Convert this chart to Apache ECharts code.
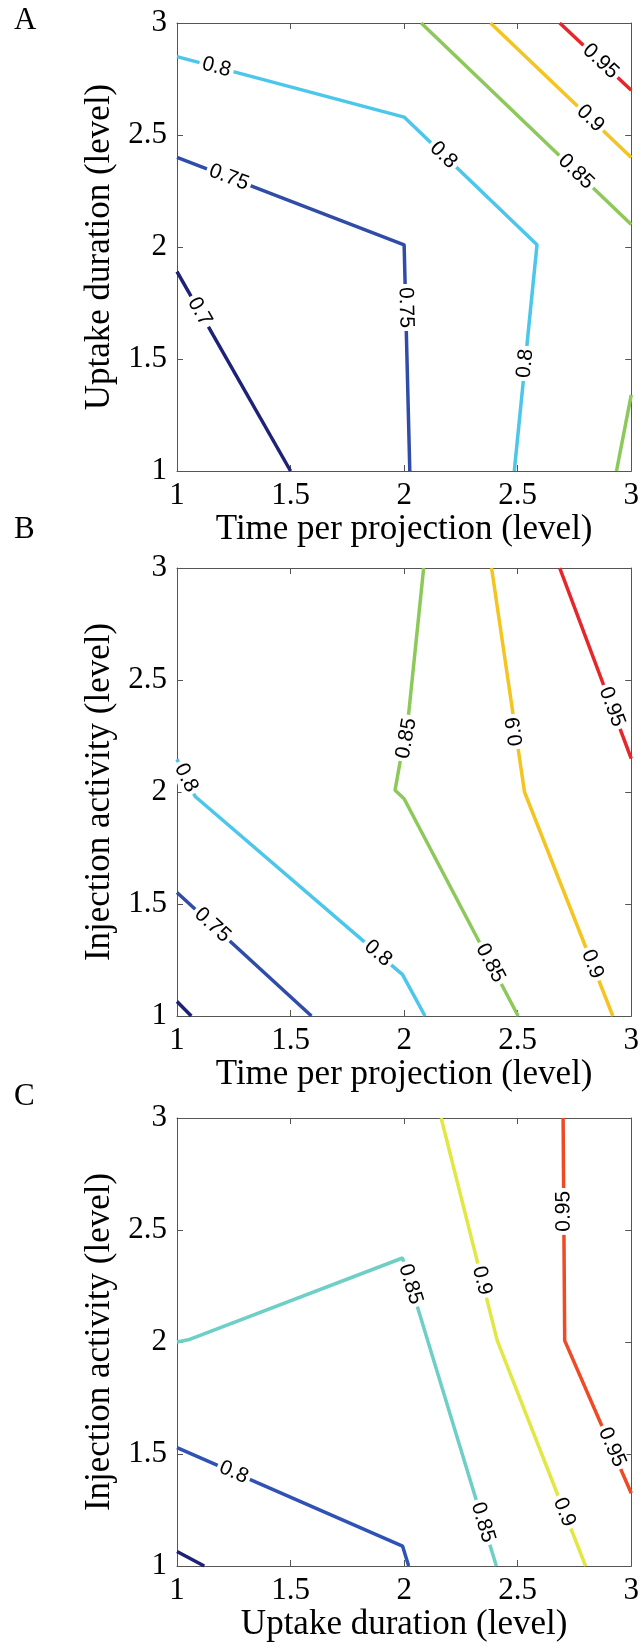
<!DOCTYPE html>
<html><head><meta charset="utf-8">
<script src="https://cdn.jsdelivr.net/npm/echarts@6/dist/echarts.min.js"></script>
<style>html,body{margin:0;padding:0;background:#fff}#c{width:642px;height:1650px}</style>
</head><body><div id="c"></div>
<script>
// ---------- axis / text data ----------
const axisMin = 1, axisMax = 3, axisStep = 0.5;
const panelLetters = ['A', 'B', 'C'];
const xAxisTitles = ['Time per projection (level)', 'Time per projection (level)', 'Uptake duration (level)'];
const yAxisTitles = ['Uptake duration (level)', 'Injection activity (level)', 'Injection activity (level)'];

// ---------- Panel A contour lines (x = time per projection, y = uptake duration) ----------
const a070 = [[1, 1.89], [1.5, 1]];
const a075 = [[1, 2.40], [2.0, 2.01], [2.025, 1]];
const a080 = [[1, 2.85], [2.0, 2.58], [2.585, 2.01], [2.485, 1]];
const a085top = [[2.075, 3], [3, 2.10]];
const a085bot = [[2.935, 1], [3, 1.34]];
const a090 = [[2.38, 3], [3, 2.40]];
const a095 = [[2.685, 3], [3, 2.70]];
// labels: [x, y, text, flip]
const labelsA = [
  [1.10, 1.712, '0.7', 0],
  [1.228, 2.311, '0.75', 0],
  [2.007, 1.73, '0.75', 0],
  [1.174, 2.803, '0.8', 0],
  [2.173, 2.41, '0.8', 0],
  [2.533, 1.48, '0.8', 0],
  [2.757, 2.336, '0.85', 0],
  [2.82, 2.574, '0.9', 0],
  [2.865, 2.829, '0.95', 0]
];

// ---------- Panel B contour lines (x = time per projection, y = injection activity) ----------
const b070 = [[1, 1.065], [1.063, 1]];
const b075 = [[1, 1.551], [1.592, 1]];
const b080 = [[1, 2.146], [1.08, 1.98], [1.993, 1.185], [2.092, 1]];
const b085 = [[2.086, 3], [2.02, 2.35], [1.96, 2.008], [2.0, 1.97], [2.502, 1]];
const b090 = [[2.385, 3], [2.53, 2.0], [2.919, 1]];
const b095 = [[2.685, 3], [3, 2.149]];
const labelsB = [
  [1.156, 1.406, '0.75', 0],
  [1.04, 2.063, '0.8', 0],
  [1.885, 1.28, '0.8', 0],
  [2.01, 2.24, '0.85', 0],
  [2.38, 1.236, '0.85', 0],
  [2.488, 2.27, '0.9', 1],
  [2.829, 1.231, '0.9', 0],
  [2.915, 2.38, '0.95', 0]
];

// ---------- Panel C contour lines (x = uptake duration, y = injection activity) ----------
const c075 = [[1, 1.065], [1.12, 1]];
const c080 = [[1, 1.528], [1.993, 1.089], [2.02, 1]];
const c085 = [[1, 2.0], [1.05, 2.01], [1.993, 2.375], [2.406, 1]];
const c090 = [[2.163, 3], [2.41, 2.006], [2.799, 1]];
const c095 = [[2.70, 3], [2.707, 2.006], [3, 1.325]];
const labelsC = [
  [1.25, 1.418, '0.8', 0],
  [2.028, 2.258, '0.85', 0],
  [2.347, 1.195, '0.85', 0],
  [2.343, 2.274, '0.9', 0],
  [2.705, 1.24, '0.9', 0],
  [2.703, 2.583, '0.95', 1],
  [2.915, 1.53, '0.95', 0]
];

// ---------- styles ----------
const colorsAB = { '0.7': '#1d2277', '0.75': '#2f4ca8', '0.8': '#4cc6ea', '0.85': '#8cc95a', '0.9': '#f4c420', '0.95': '#e6262a' };
const colorsC = { '0.75': '#1d2277', '0.8': '#3052b5', '0.85': '#6dcfc6', '0.9': '#e2e744', '0.95': '#ef4a25' };

const panels = [
  { lines: [['0.7', a070], ['0.75', a075], ['0.8', a080], ['0.85', a085top], ['0.85', a085bot], ['0.9', a090], ['0.95', a095]], labels: labelsA, colors: colorsAB },
  { lines: [['0.7', b070], ['0.75', b075], ['0.8', b080], ['0.85', b085], ['0.9', b090], ['0.95', b095]], labels: labelsB, colors: colorsAB },
  { lines: [['0.75', c075], ['0.8', c080], ['0.85', c085], ['0.9', c090], ['0.95', c095]], labels: labelsC, colors: colorsC }
];

const gridTops = [23, 568, 1118];
const letterTops = [5, 514, 1081];
const gridLeft = 177, gridW = 455, gridH = 448;
const serif = '"Liberation Serif", "Times New Roman", serif';
const axisColor = '#555';

function nearestSeg(pt, lines, level) {
  let best = null, bestD = Infinity;
  lines.forEach(([lv, pts]) => {
    if (lv !== level) return;
    for (let i = 0; i < pts.length - 1; i++) {
      const [x1, y1] = pts[i], [x2, y2] = pts[i + 1];
      const dx = x2 - x1, dy = y2 - y1;
      let t = ((pt[0] - x1) * dx + (pt[1] - y1) * dy) / (dx * dx + dy * dy);
      t = Math.max(0, Math.min(1, t));
      const px = x1 + t * dx, py = y1 + t * dy;
      const d = (px - pt[0]) ** 2 + (py - pt[1]) ** 2;
      if (d < bestD) { bestD = d; best = [pts[i], pts[i + 1]]; }
    }
  });
  return best;
}

const grid = [], xAxis = [], yAxis = [], series = [], graphic = [];
panels.forEach((p, i) => {
  grid.push({ left: gridLeft, top: gridTops[i], width: gridW, height: gridH, containLabel: false });
  const common = {
    type: 'value', gridIndex: i, min: axisMin, max: axisMax, interval: axisStep,
    splitLine: { show: false },
    axisLine: { show: true, onZero: false, lineStyle: { color: axisColor, width: 1 } },
    axisTick: { show: true, inside: true, length: 6, lineStyle: { color: axisColor, width: 1 } }
  };
  xAxis.push(Object.assign({}, common, {
    position: 'bottom',
    axisLabel: { show: true, fontFamily: serif, fontSize: 31, color: '#000', margin: 9 },
    name: xAxisTitles[i], nameLocation: 'middle', nameGap: 37,
    nameTextStyle: { fontFamily: serif, fontSize: 35, color: '#000' }
  }));
  xAxis.push(Object.assign({}, common, { position: 'top', axisLabel: { show: false } }));
  yAxis.push(Object.assign({}, common, {
    position: 'left',
    axisLabel: { show: true, fontFamily: serif, fontSize: 31, color: '#000', margin: 10 },
    name: yAxisTitles[i], nameLocation: 'middle', nameGap: 53, nameRotate: 90,
    nameTextStyle: { fontFamily: serif, fontSize: 35, color: '#000' }
  }));
  yAxis.push(Object.assign({}, common, { position: 'right', axisLabel: { show: false } }));

  p.lines.forEach(([lv, pts]) => {
    series.push({
      type: 'line', xAxisIndex: i * 2, yAxisIndex: i * 2, data: pts,
      showSymbol: false, symbol: 'none', silent: true, animation: false, z: 3,
      lineStyle: { color: p.colors[lv], width: 3.5 }
    });
  });

  const labelData = p.labels.map(l => {
    const seg = nearestSeg(l, p.lines, l[2]);
    return { value: [l[0], l[1], seg[0][0], seg[0][1], seg[1][0], seg[1][1]], name: l[2], flip: l[3] };
  });
  series.push({
    type: 'custom', xAxisIndex: i * 2, yAxisIndex: i * 2, z: 10, animation: false, silent: true,
    data: labelData,
    renderItem: function (params, api) {
      const c = api.coord([api.value(0), api.value(1)]);
      const a = api.coord([api.value(2), api.value(3)]);
      const b = api.coord([api.value(4), api.value(5)]);
      let ang = Math.atan2(b[1] - a[1], b[0] - a[0]);
      if (ang > Math.PI / 2) ang -= Math.PI;
      if (ang <= -Math.PI / 2) ang += Math.PI;
      const d = labelData[params.dataIndex];
      if (d.flip) ang += (ang > 0 ? -Math.PI : Math.PI);
      return {
        type: 'text', x: c[0], y: c[1], rotation: -ang,
        style: {
          text: d.name, fontFamily: '"Liberation Sans", Arial, sans-serif', fontSize: 21, fill: '#000',
          align: 'center', verticalAlign: 'middle', backgroundColor: '#fff', padding: [0, 3]
        }
      };
    }
  });

  graphic.push({
    type: 'text', left: 14, top: letterTops[i],
    style: { text: panelLetters[i], fontFamily: serif, fontSize: 31, fill: '#000' }
  });
});

const chart = echarts.init(document.getElementById('c'), null, { renderer: 'canvas' });
chart.setOption({
  animation: false, backgroundColor: '#fff',
  textStyle: { fontFamily: serif },
  grid, xAxis, yAxis, series, graphic
});
</script>
</body></html>
